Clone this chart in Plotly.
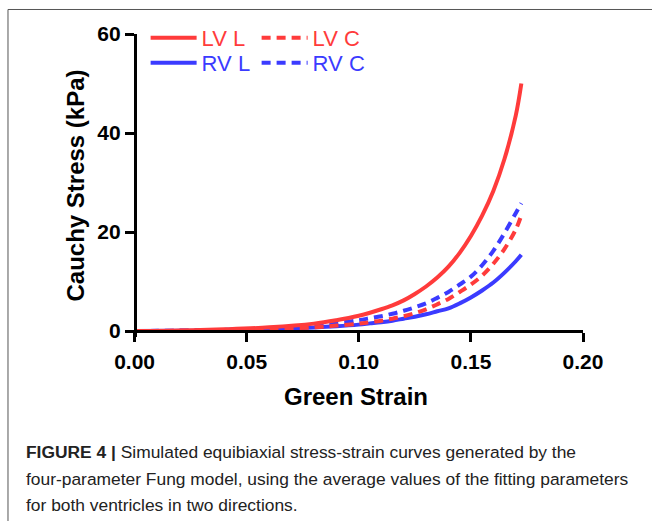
import plotly.graph_objects as go

# Green strain sample points
strain = [0.0, 0.02, 0.04, 0.06, 0.08, 0.09, 0.10, 0.105, 0.11, 0.115, 0.12,
          0.125, 0.13, 0.135, 0.14, 0.145, 0.15, 0.155, 0.16, 0.165, 0.17, 0.1725]

# Cauchy stress (kPa)
lv_l = [0.0, 0.1, 0.35, 0.75, 1.5, 2.2, 3.1, 3.7, 4.4, 5.2, 6.2,
        7.5, 9.0, 10.8, 13.0, 15.8, 19.2, 23.3, 28.3, 34.8, 43.5, 50.0]
lv_c = [0.0, 0.05, 0.15, 0.35, 0.75, 1.1, 1.5, 1.8, 2.1, 2.5, 3.0,
        3.6, 4.4, 5.4, 6.5, 7.9, 9.4, 11.2, 13.6, 16.6, 20.5, 23.4]
rv_l = [0.0, 0.05, 0.15, 0.35, 0.7, 0.95, 1.3, 1.55, 1.8, 2.1, 2.5,
        2.9, 3.4, 4.0, 4.6, 5.6, 6.8, 8.2, 9.8, 11.8, 14.1, 15.4]
rv_c = [0.0, 0.1, 0.25, 0.55, 1.1, 1.6, 2.2, 2.6, 3.0, 3.5, 4.1,
        4.8, 5.6, 6.7, 7.9, 9.4, 11.0, 13.3, 16.2, 19.8, 23.8, 25.8]

x_ticks = [0.0, 0.05, 0.10, 0.15, 0.20]
x_ticklabels = ["0.00", "0.05", "0.10", "0.15", "0.20"]
y_ticks = [0, 20, 40, 60]

X_RANGE = [-0.0025, 0.2]
Y_RANGE = [-1.2, 60]

RED = "#FF3B3B"
BLUE = "#3B3BFF"
DASH = "9px,6px"

W, H = 652, 521
X_PX0, X_PX1 = 135, 583     # pixel positions of strain 0 and 0.2
Y_PX0, Y_PX1 = 331, 34      # pixel positions of stress 0 and 60
sx = (X_PX1 - X_PX0) / (0.2 - 0.0)
sy = (Y_PX0 - Y_PX1) / (60 - 0)
ML = X_PX0 - (0 - X_RANGE[0]) * sx
MR = W - X_PX1
MT = Y_PX1
MB = H - Y_PX0 - (0 - Y_RANGE[0]) * sy
PW, PH = W - ML - MR, H - MT - MB


def px_to_paper(px, py):
    return (px - ML) / PW, (H - MB - py) / PH


fig = go.Figure()
fig.add_trace(go.Scatter(x=strain, y=rv_l, name="RV L", mode="lines",
                         line=dict(color=BLUE, width=4, shape="spline", smoothing=1.0),
                         legend="legend2"))
fig.add_trace(go.Scatter(x=strain, y=rv_c, name="RV C", mode="lines",
                         line=dict(color=BLUE, width=4, dash=DASH, shape="spline", smoothing=1.0),
                         legend="legend2"))
fig.add_trace(go.Scatter(x=strain, y=lv_l, name="LV L", mode="lines",
                         line=dict(color=RED, width=4, shape="spline", smoothing=1.0),
                         legend="legend"))
fig.add_trace(go.Scatter(x=strain, y=lv_c, name="LV C", mode="lines",
                         line=dict(color=RED, width=4, dash=DASH, shape="spline", smoothing=1.0),
                         legend="legend"))

axis_font = dict(family="Liberation Sans, Arial, sans-serif", size=21, color="black",
                 weight="bold")
title_font = dict(family="Liberation Sans, Arial, sans-serif", size=24, color="black")

x_pos = (0 - Y_RANGE[0]) / (Y_RANGE[1] - Y_RANGE[0])
y_pos = (0 - X_RANGE[0]) / (X_RANGE[1] - X_RANGE[0])

fig.update_layout(
    width=W, height=H,
    margin=dict(l=ML, r=MR, t=MT, b=MB, autoexpand=False),
    paper_bgcolor="white", plot_bgcolor="white",
    xaxis=dict(range=X_RANGE, tickvals=x_ticks, ticktext=x_ticklabels,
               anchor="free", position=x_pos,
               showgrid=False, zeroline=False, showline=True, linecolor="black",
               linewidth=2.5, ticks="outside", ticklen=9, tickwidth=2.5,
               tickcolor="black", tickfont=axis_font, ticklabelstandoff=2,
               title=dict(text="<b>Green Strain</b>", font=title_font, standoff=16)),
    yaxis=dict(range=Y_RANGE, tickvals=y_ticks,
               anchor="free", position=y_pos,
               showgrid=False, zeroline=False, showline=True, linecolor="black",
               linewidth=2.5, ticks="outside", ticklen=9, tickwidth=2.5,
               tickcolor="black", tickfont=axis_font,
               title=dict(text="<b>Cauchy Stress (kPa)</b>", font=title_font, standoff=4)),
    legend=dict(orientation="h", x=px_to_paper(146, 0)[0], y=px_to_paper(0, 17)[1],
                xanchor="left", yanchor="top", bgcolor="rgba(0,0,0,0)",
                font=dict(family="Liberation Sans, Arial, sans-serif", size=22, color=RED),
                entrywidth=50, entrywidthmode="pixels", itemwidth=46, tracegroupgap=0),
    legend2=dict(orientation="h", x=px_to_paper(146, 0)[0], y=px_to_paper(0, 42)[1],
                 xanchor="left", yanchor="top", bgcolor="rgba(0,0,0,0)",
                 font=dict(family="Liberation Sans, Arial, sans-serif", size=22, color=BLUE),
                 entrywidth=50, entrywidthmode="pixels", itemwidth=46, tracegroupgap=0),
    showlegend=True,
)

# figure frame (top and left border lines)
x0, y0 = px_to_paper(8.5, 9.5)
x1, _ = px_to_paper(660, 9.5)
_, y1 = px_to_paper(8.5, 530)
fig.add_shape(type="line", xref="paper", yref="paper", x0=x0, y0=y0, x1=x1, y1=y0,
              line=dict(color="#555555", width=1))
fig.add_shape(type="line", xref="paper", yref="paper", x0=x0, y0=y0, x1=x0, y1=y1,
              line=dict(color="#555555", width=1))

caption_lines = [
    "<b>FIGURE 4 |</b> Simulated equibiaxial stress-strain curves generated by the",
    "four-parameter Fung model, using the average values of the fitting parameters",
    "for both ventricles in two directions.",
]
caption_y = [452, 479, 505]
for txt, cy in zip(caption_lines, caption_y):
    cx, cyp = px_to_paper(24, cy)
    fig.add_annotation(text=txt, xref="paper", yref="paper", x=cx, y=cyp,
                       xanchor="left", yanchor="middle", showarrow=False,
                       font=dict(family="Liberation Sans, Arial, sans-serif", size=17.4,
                                 color="#222222"))

# remove the default page margin so the figure sits at the window's top-left corner
fig.write_html("out.html",
               config={"displayModeBar": False},
               post_script="document.body.style.margin='0';document.body.style.overflow='hidden';")
